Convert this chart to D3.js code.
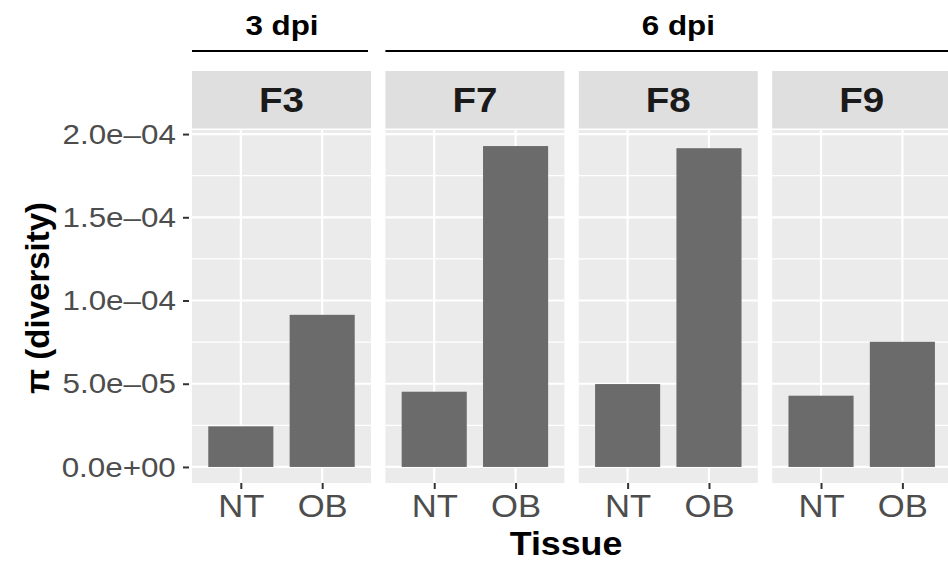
<!DOCTYPE html>
<html>
<head>
<meta charset="utf-8">
<script src="https://cdn.jsdelivr.net/npm/d3@7"></script>
<style>
  body { margin: 0; background: #fff; }
  svg { display: block; font-family: "Liberation Sans", Arial, Helvetica, sans-serif; }
</style>
</head>
<body>
<div id="plot"></div>
<script>
// Data
var panels = ["F3", "F7", "F8", "F9"];
var tissues = ["NT", "OB"];
var ntValues = [2.44e-5, 4.52e-5, 4.98e-5, 4.28e-5];
var obValues = [9.14e-5, 1.928e-4, 1.915e-4, 7.52e-5];
var groupLabels = ["3 dpi", "6 dpi"];
var groupPanels = [["F3"], ["F7", "F8", "F9"]];
var yTicks = [0, 5e-5, 1e-4, 1.5e-4, 2e-4];

var svgWidth = 948;
var svgHeight = 565;

// Panel geometry
var firstLeft = 192;
var panelWidth = 179;
var panelStep = 193.4;
var panelTop = 130;
var panelBottom = 483;
var stripTop = 71;
var stripBottom = 128.5;

// the text in the original is a bit wider than it is tall
var stretch = 1.1;

var data = [];
panels.forEach(function(p, i) {
  data.push({ panel: p, tissue: "NT", value: ntValues[i] });
  data.push({ panel: p, tissue: "OB", value: obValues[i] });
});

var svg = d3.select("#plot")
  .append("svg")
  .attr("width", svgWidth)
  .attr("height", svgHeight);

// Y scale with ggplot-like 5% expansion
var yMax = d3.max(data, d => d.value);
var yLinearScale = d3.scaleLinear()
  .domain([-0.05 * yMax, yMax * 1.05])
  .range([panelBottom, panelTop]);

var minorTicks = [];
for (var i = 0; i < yTicks.length - 1; i++) {
  minorTicks.push((yTicks[i] + yTicks[i + 1]) / 2);
}

var fmt = function(v) {
  var s = d3.format(".1e")(v);
  // R style exponent: e-05, e+00
  return s.replace(/e([+-])(\d)$/, "e$10$2").replace("-", "\u2013").replace("\u2212", "\u2013");
};

function panelLeft(i) { return firstLeft + i * panelStep; }

function addText(x, y, txt, size, weight, anchor) {
  return svg.append("text")
    .attr("transform", `translate(${x}, ${y}) scale(${stretch}, 1)`)
    .attr("text-anchor", anchor || "middle")
    .attr("font-weight", weight || "normal")
    .attr("font-size", size)
    .attr("fill", "#000")
    .text(txt);
}

panels.forEach(function(p, i) {
  var left = panelLeft(i);
  var xScale = d3.scalePoint()
    .domain(tissues)
    .range([left, left + panelWidth])
    .padding(0.6);
  var step = xScale.step();

  var g = svg.append("g");

  // strip
  g.append("rect")
    .attr("x", left).attr("y", stripTop)
    .attr("width", panelWidth).attr("height", stripBottom - stripTop)
    .attr("fill", "#dfdfdf");
  addText(left + panelWidth / 2, 112, p, 35, "bold").attr("fill", "#1a1a1a");

  // panel background
  g.append("rect")
    .attr("x", left).attr("y", panelTop)
    .attr("width", panelWidth).attr("height", panelBottom - panelTop)
    .attr("fill", "#ebebeb");

  // minor grid
  g.selectAll(".minor")
    .data(minorTicks)
    .enter()
    .append("line")
    .attr("x1", left).attr("x2", left + panelWidth)
    .attr("y1", d => yLinearScale(d)).attr("y2", d => yLinearScale(d))
    .attr("stroke", "#fff").attr("stroke-width", 1.1);

  // major grid
  g.selectAll(".major")
    .data(yTicks)
    .enter()
    .append("line")
    .attr("x1", left).attr("x2", left + panelWidth)
    .attr("y1", d => yLinearScale(d)).attr("y2", d => yLinearScale(d))
    .attr("stroke", "#fff").attr("stroke-width", 2.2);

  g.selectAll(".vgrid")
    .data(tissues)
    .enter()
    .append("line")
    .attr("x1", d => xScale(d)).attr("x2", d => xScale(d))
    .attr("y1", panelTop).attr("y2", panelBottom)
    .attr("stroke", "#fff").attr("stroke-width", 2.2);

  // bars
  g.selectAll(".bar")
    .data(data.filter(d => d.panel === p))
    .enter()
    .append("rect")
    .attr("class", "bar")
    .attr("x", d => xScale(d.tissue) - step * 0.4)
    .attr("y", d => yLinearScale(d.value))
    .attr("width", step * 0.8)
    .attr("height", d => yLinearScale(0) - yLinearScale(d.value))
    .attr("fill", "#6b6b6b");

  // bottom axis
  var bottomAxis = d3.axisBottom(xScale).tickSize(6).tickPadding(6);
  var ax = g.append("g")
    .attr("transform", `translate(0, ${panelBottom})`)
    .call(bottomAxis);
  ax.select(".domain").remove();
  ax.selectAll(".tick line").attr("stroke", "#333").attr("stroke-width", 2);
  ax.selectAll(".tick text")
    .attr("font-size", 31.5)
    .attr("fill", "#4d4d4d")
    .attr("transform", `scale(${stretch}, 1)`)
    .attr("font-family", "Liberation Sans, Arial, sans-serif");
});

// left axis
var leftAxis = d3.axisLeft(yLinearScale)
  .tickValues(yTicks)
  .tickFormat(fmt)
  .tickSize(6)
  .tickPadding(6);
var lax = svg.append("g")
  .attr("transform", `translate(${firstLeft - 3}, 0)`)
  .call(leftAxis);
lax.select(".domain").remove();
lax.selectAll(".tick line").attr("stroke", "#333").attr("stroke-width", 2);
lax.selectAll(".tick text")
  .attr("font-size", 28.5)
  .attr("fill", "#4d4d4d")
  .attr("transform", `scale(${stretch}, 1)`)
  .attr("font-family", "Liberation Sans, Arial, sans-serif");

// group annotations above strips
var lineY = 51;
groupLabels.forEach(function(lbl, gi) {
  var idx = groupPanels[gi].map(p => panels.indexOf(p));
  var x1 = panelLeft(d3.min(idx));
  var x2 = panelLeft(d3.max(idx)) + panelWidth;
  if (gi === groupLabels.length - 1) x2 += 16; // last line runs past the edge
  else x2 -= 3;
  svg.append("line")
    .attr("x1", x1).attr("x2", x2)
    .attr("y1", lineY).attr("y2", lineY)
    .attr("stroke", "#000").attr("stroke-width", 2);
  addText((x1 + x2) / 2 + 2, 35, lbl, 28.5, "bold");
});

// axis titles
addText(566, 555, "Tissue", 32.5, "bold");

svg.append("text")
  .attr("transform", `translate(49, 298) rotate(-90)`)
  .attr("text-anchor", "middle")
  .attr("font-weight", "bold")
  .attr("font-size", 33)
  .attr("fill", "#000")
  .text("\u03c0 (diversity)");
</script>
</body>
</html>
